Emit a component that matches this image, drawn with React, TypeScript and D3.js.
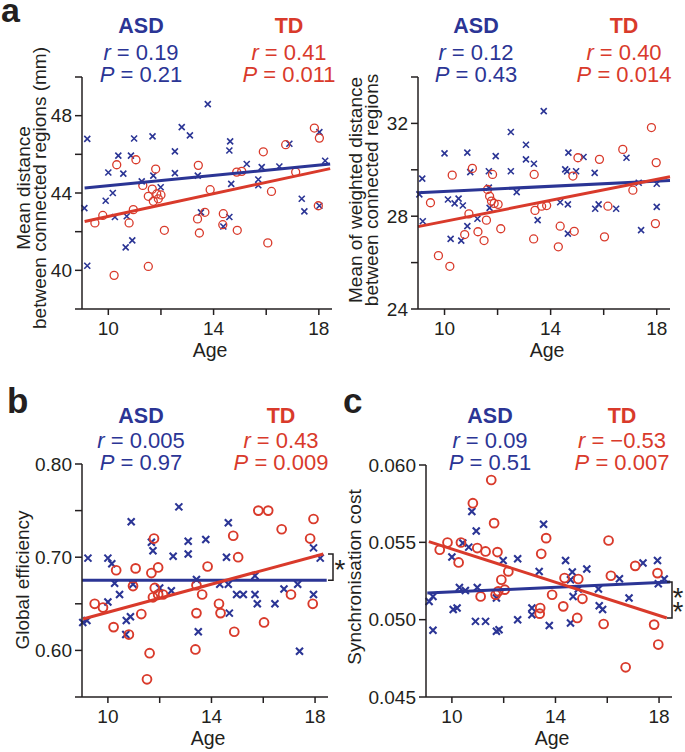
import * as d3 from 'd3';

const FONT = '"Liberation Sans", Arial, Helvetica, sans-serif';
const BLUE = '#2b3595';
const RED = '#d93a2b';
const INK = '#231f20';

const ageTicks = [10, 12, 14, 16, 18];
const ageLabels = [10, 14, 18];

// a (left): mean distance between connected regions (mm)
const distAsd = [
  [9.2, 46.8], [10.38, 45.93], [10.0, 45.06], [10.57, 45.0], [10.98, 46.82], [10.86, 45.93], [11.27, 44.6],
  [11.68, 46.93], [11.71, 44.9], [12.53, 46.15], [12.53, 45.03], [12.79, 47.41], [13.1, 46.98], [13.4, 44.9],
  [13.78, 48.6], [14.63, 46.67], [14.6, 46.2], [14.67, 44.47], [15.26, 45.5], [15.83, 45.34], [15.7, 44.7],
  [15.7, 44.4], [16.5, 45.37], [16.88, 46.55], [18.02, 47.15], [18.24, 45.67], [17.35, 43.7], [10.17, 44.0],
  [9.9, 43.6], [9.09, 43.22], [11.99, 44.3], [10.25, 42.76], [10.7, 42.8], [10.66, 41.19], [10.91, 41.55],
  [9.2, 40.24], [13.52, 43.0], [14.37, 42.27], [14.6, 42.76], [17.45, 43.05], [18.02, 43.34],
];
const distTd = [
  [10.32, 45.46], [11.05, 45.72], [11.31, 44.39], [11.8, 45.24], [13.42, 45.43], [13.87, 44.17], [14.88, 45.08],
  [15.07, 45.12], [15.89, 46.13], [16.2, 44.08], [16.74, 46.5], [17.12, 45.08], [17.83, 47.36], [18.02, 46.84],
  [11.67, 44.2], [11.52, 43.83], [11.71, 43.57], [11.84, 43.95], [12.0, 43.9], [11.9, 43.7], [9.49, 42.45],
  [9.79, 42.84], [10.95, 43.14], [10.79, 42.45], [13.39, 42.66], [13.67, 43.0], [13.46, 41.93], [14.37, 42.93],
  [14.35, 42.36], [14.9, 42.07], [12.13, 42.07], [16.06, 41.42], [17.98, 43.34], [11.52, 40.2], [10.22, 39.74],
];
const distFitAsd = [[9.1, 44.26], [18.43, 45.5]];
const distFitTd = [[9.1, 42.53], [18.43, 45.26]];

// a (right): mean of weighted distance
const wdistAsd = [
  [9.16, 29.62], [10.0, 30.71], [10.86, 30.74], [10.97, 29.9], [11.67, 29.94], [11.93, 30.59], [12.5, 31.63],
  [12.5, 29.94], [12.72, 29.04], [13.07, 31.08], [13.07, 30.45], [13.37, 30.26], [13.74, 32.53], [14.55, 30.02],
  [14.62, 29.93], [14.67, 30.74], [14.96, 29.94], [15.24, 30.55], [15.66, 29.87], [16.86, 30.52], [17.32, 29.44],
  [18.0, 29.4], [11.67, 29.23], [9.05, 28.94], [9.18, 27.78], [10.13, 28.72], [10.38, 28.55], [10.53, 28.76],
  [10.69, 28.46], [10.86, 27.57], [10.23, 27.02], [10.63, 26.95], [11.24, 27.89], [11.7, 28.36], [13.51, 27.83],
  [14.36, 28.6], [14.65, 28.51], [14.65, 27.25], [15.68, 28.32], [15.81, 28.51], [16.47, 28.32], [17.41, 27.4],
  [18.0, 28.4],
];
const wdistTd = [
  [10.29, 29.77], [11.05, 30.06], [11.81, 29.8], [13.38, 29.8], [15.03, 30.52], [14.84, 29.73], [15.84, 30.45],
  [16.72, 30.88], [17.8, 31.82], [17.98, 30.31], [17.1, 29.12], [11.62, 29.15], [9.47, 28.58], [9.77, 26.3],
  [10.2, 25.84], [10.92, 28.1], [10.76, 27.21], [11.26, 27.33], [11.49, 26.95], [11.58, 27.83], [11.7, 28.86],
  [11.77, 28.65], [11.87, 28.55], [12.02, 28.51], [12.12, 27.46], [13.36, 27.02], [13.41, 28.25], [13.66, 28.43],
  [13.85, 28.46], [14.36, 27.57], [14.29, 26.68], [14.89, 27.35], [16.03, 27.11], [16.16, 28.43], [17.95, 27.68],
];
const wdistFitAsd = [[9.0, 29.01], [18.5, 29.54]];
const wdistFitTd = [[9.0, 27.55], [18.5, 29.7]];

// b: global efficiency
const effAsd = [
  [12.74, 0.754], [10.9, 0.738], [14.65, 0.737], [11.68, 0.716], [11.74, 0.707], [13.1, 0.717], [13.78, 0.719],
  [13.1, 0.7035], [12.52, 0.701], [17.94, 0.71], [9.23, 0.699], [10.0, 0.699], [10.15, 0.693], [14.58, 0.7],
  [10.26, 0.672], [10.45, 0.66], [10.0, 0.652], [10.71, 0.632], [10.87, 0.636], [10.69, 0.617], [10.97, 0.671],
  [9.19, 0.632], [9.03, 0.63], [12.0, 0.667], [12.45, 0.664], [13.42, 0.676], [13.49, 0.62], [14.32, 0.671],
  [14.65, 0.671], [14.69, 0.64], [14.97, 0.66], [15.23, 0.66], [15.68, 0.68], [15.68, 0.66], [15.77, 0.65],
  [16.45, 0.65], [16.8, 0.666], [17.33, 0.671], [17.4, 0.599], [17.94, 0.66], [18.2, 0.699],
];
const effTd = [
  [11.78, 0.72], [14.84, 0.723], [15.81, 0.75], [16.19, 0.75], [16.71, 0.73], [17.94, 0.741], [17.81, 0.72],
  [15.03, 0.7], [10.32, 0.686], [11.07, 0.688], [11.68, 0.683], [11.94, 0.689], [10.97, 0.669], [11.81, 0.667],
  [11.74, 0.657], [11.94, 0.66], [12.13, 0.66], [9.49, 0.65], [9.81, 0.646], [10.22, 0.625], [10.81, 0.617],
  [11.29, 0.639], [11.61, 0.597], [11.51, 0.569], [13.42, 0.67], [13.64, 0.66], [13.42, 0.64], [13.38, 0.601],
  [13.85, 0.69], [14.29, 0.65], [14.35, 0.64], [14.88, 0.62], [16.03, 0.63], [17.07, 0.66], [17.91, 0.65],
];
const effFitAsd = [[9.0, 0.6752], [18.45, 0.6752]];
const effFitTd = [[9.04, 0.6337], [18.32, 0.7035]];

// c: synchronisation cost
const syncAsd = [
  [10.77, 0.057], [10.94, 0.05574], [13.54, 0.05617], [10.42, 0.05495], [10.65, 0.05469], [10.0, 0.05405],
  [11.98, 0.05383], [12.54, 0.05394], [13.37, 0.05312], [14.39, 0.05383], [14.65, 0.05308], [14.58, 0.05258],
  [15.21, 0.05327], [14.68, 0.0515], [14.88, 0.05198], [15.66, 0.05198], [15.69, 0.0509], [15.82, 0.05065],
  [16.47, 0.05265], [16.84, 0.0514], [17.38, 0.05366], [17.94, 0.05383], [17.97, 0.05232], [18.2, 0.05263],
  [9.12, 0.05118], [9.27, 0.0515], [9.27, 0.04931], [10.05, 0.05065], [10.2, 0.05075], [10.29, 0.05208],
  [10.52, 0.05189], [10.98, 0.05208], [10.91, 0.04989], [11.3, 0.04989], [11.72, 0.04925], [11.82, 0.04935],
  [11.72, 0.0514], [12.54, 0.05], [13.09, 0.05075], [13.09, 0.05032], [13.76, 0.04963], [14.58, 0.04978],
];
const syncTd = [
  [11.52, 0.05903], [10.81, 0.05753], [11.63, 0.05624], [13.64, 0.05527], [16.05, 0.05512], [9.83, 0.05499],
  [10.35, 0.05499], [9.53, 0.05452], [10.26, 0.0537], [10.98, 0.05463], [11.3, 0.05441], [11.76, 0.05437],
  [13.45, 0.05426], [11.91, 0.05258], [12.18, 0.05312], [11.79, 0.05183], [12.04, 0.05194], [11.69, 0.05161],
  [11.11, 0.0515], [13.41, 0.05075], [13.39, 0.05039], [13.87, 0.05161], [14.3, 0.05086], [14.35, 0.05269],
  [14.88, 0.05263], [15.04, 0.05135], [14.84, 0.05011], [15.86, 0.04972], [16.14, 0.05284], [17.08, 0.05348],
  [17.94, 0.05301], [17.81, 0.04968], [17.97, 0.04839], [16.71, 0.04692],
];
const syncFitAsd = [[9.05, 0.05172], [18.43, 0.05243]];
const syncFitTd = [[9.11, 0.05505], [18.3, 0.05011]];

function Stat({ x, y, sym, val, color }) {
  return (
    <text x={x} y={y} textAnchor="middle" fill={color} fontSize={22}>
      <tspan fontStyle="italic">{sym}</tspan> = {val}
    </text>
  );
}

function Panel(p) {
  const x = d3.scaleLinear().domain([9, 18.5]).range(p.xr);
  const y = d3.scaleLinear().domain(p.yDomain).range(p.yr);
  const line = d3.line().x(d => x(d[0])).y(d => y(d[1]));
  const [x0, x1] = p.xr;
  const [yb, yt] = p.yr;
  const s = p.xs;
  const hy = p.headY;

  return (
    <g>
      {p.asd.map((d, i) => {
        const cx = x(d[0]), cy = y(d[1]);
        return (
          <path key={'a' + i}
            d={`M${cx - s},${cy - s}L${cx + s},${cy + s}M${cx - s},${cy + s}L${cx + s},${cy - s}`}
            stroke={BLUE} strokeWidth={p.xw} fill="none" />
        );
      })}
      {p.td.map((d, i) => (
        <circle key={'t' + i} cx={x(d[0])} cy={y(d[1])} r={p.cr}
          fill="none" stroke={RED} strokeWidth={p.cw} />
      ))}
      <path d={line(p.fitAsd)} stroke={BLUE} strokeWidth={3} fill="none" />
      <path d={line(p.fitTd)} stroke={RED} strokeWidth={3} fill="none" />

      {/* axes */}
      <line x1={x0} x2={x0} y1={yt} y2={yb} stroke={INK} strokeWidth={1.5} />
      <line x1={x0} x2={x1} y1={yb} y2={yb} stroke={INK} strokeWidth={1.5} />
      {p.yTicks.map(t => (
        <g key={'y' + t}>
          <line x1={x0 - 7} x2={x0} y1={y(t)} y2={y(t)} stroke={INK} strokeWidth={1.5} />
          {p.yLabels.includes(t) && (
            <text x={x0 - 10} y={y(t) + 6.5} textAnchor="end" fontSize={19} fill={INK}>
              {p.yFmt(t)}
            </text>
          )}
        </g>
      ))}
      {ageTicks.map(t => (
        <g key={'x' + t}>
          <line x1={x(t)} x2={x(t)} y1={yb} y2={yb + 6} stroke={INK} strokeWidth={1.5} />
          {ageLabels.includes(t) && (
            <text x={x(t)} y={yb + 26} textAnchor="middle" fontSize={19} fill={INK}>{t}</text>
          )}
        </g>
      ))}
      <text x={(x0 + x1) / 2 + 3} y={yb + 48} textAnchor="middle" fontSize={19.5} fill={INK}>Age</text>
      {p.yTitle.map((t, i) => (
        <text key={t} transform={`translate(${p.yTitleX[i]},${p.yTitleC}) rotate(-90)`}
          textAnchor="middle" fontSize={19} fill={INK}>{t}</text>
      ))}

      {/* header */}
      <text x={p.asdX} y={hy[0]} textAnchor="middle" fontWeight="bold" fontSize={21.5} fill={BLUE}>ASD</text>
      <Stat x={p.asdX} y={hy[1]} sym="r" val={p.asdR} color={BLUE} />
      <Stat x={p.asdX} y={hy[2]} sym="P" val={p.asdP} color={BLUE} />
      <text x={p.tdX} y={hy[0]} textAnchor="middle" fontWeight="bold" fontSize={21.5} fill={RED}>TD</text>
      <Stat x={p.tdX} y={hy[1]} sym="r" val={p.tdR} color={RED} />
      <Stat x={p.tdX} y={hy[2]} sym="P" val={p.tdP} color={RED} />

      {p.bracket && (() => {
        const bx = p.bracket.x;
        const ya = y(p.fitAsd[1][1]);
        const yr = y(p.fitTd[1][1]);
        return (
          <g>
            <path d={`M${bx - 5},${ya}H${bx}V${yr}H${bx - 5}`} stroke={INK} strokeWidth={1.5} fill="none" />
            {p.bracket.stars.map((sy, i) => (
              <text key={i} x={bx + p.bracket.dx} y={sy + 16} textAnchor="middle"
                fontSize={28} fill={INK}>*</text>
            ))}
          </g>
        );
      })()}
    </g>
  );
}

export default function App() {
  return (
    <svg width={685} height={752} viewBox="0 0 685 752"
      style={{ position: 'absolute', left: 0, top: 0, background: '#fff', fontFamily: FONT }}>
      <text x={1} y={22} fontSize={34} fontWeight="bold" fill={INK}>a</text>
      <text x={7} y={413} fontSize={35} fontWeight="bold" fill={INK}>b</text>
      <text x={343} y={413} fontSize={35} fontWeight="bold" fill={INK}>c</text>

      <Panel asd={distAsd} td={distTd} fitAsd={distFitAsd} fitTd={distFitTd}
        xr={[82, 332]} yr={[309, 77]} yDomain={[38, 50]}
        yTicks={[38, 40, 42, 44, 46, 48, 50]} yLabels={[40, 44, 48]} yFmt={d => String(d)}
        yTitle={['Mean distance', 'between connected regions (mm)']} yTitleX={[30, 46]} yTitleC={188}
        headY={[33, 60, 82]} asdX={141} tdX={289}
        asdR="0.19" asdP="0.21" tdR="0.41" tdP="0.011"
        xs={3} xw={1.6} cr={4} cw={1.3} />

      <Panel asd={wdistAsd} td={wdistTd} fitAsd={wdistFitAsd} fitTd={wdistFitTd}
        xr={[418, 670]} yr={[309, 77]} yDomain={[24, 34]}
        yTicks={[24, 26, 28, 30, 32, 34]} yLabels={[24, 28, 32]} yFmt={d => String(d)}
        yTitle={['Mean of weighted distance', 'between connected regions']} yTitleX={[362, 378]} yTitleC={190}
        headY={[33, 60, 82]} asdX={476} tdX={624}
        asdR="0.12" asdP="0.43" tdR="0.40" tdP="0.014"
        xs={3} xw={1.6} cr={4} cw={1.3} />

      <Panel asd={effAsd} td={effTd} fitAsd={effFitAsd} fitTd={effFitTd}
        xr={[82, 328]} yr={[697, 464]} yDomain={[0.55, 0.8]}
        yTicks={[0.55, 0.6, 0.65, 0.7, 0.75, 0.8]} yLabels={[0.6, 0.7, 0.8]} yFmt={d3.format('.2f')}
        yTitle={['Global efficiency']} yTitleX={[29]} yTitleC={580}
        headY={[423, 448, 470]} asdX={141} tdX={281}
        asdR="0.005" asdP="0.97" tdR="0.43" tdP="0.009"
        xs={3.5} xw={2.1} cr={4.4} cw={1.9}
        bracket={{ x: 333, dx: 7, stars: [563] }} />

      <Panel asd={syncAsd} td={syncTd} fitAsd={syncFitAsd} fitTd={syncFitTd}
        xr={[426, 672]} yr={[697, 465]} yDomain={[0.045, 0.06]}
        yTicks={[0.045, 0.05, 0.055, 0.06]} yLabels={[0.045, 0.05, 0.055, 0.06]} yFmt={d3.format('.3f')}
        yTitle={['Synchronisation cost']} yTitleX={[361]} yTitleC={577}
        headY={[423, 448, 470]} asdX={490} tdX={622}
        asdR="0.09" asdP="0.51" tdR="−0.53" tdP="0.007"
        xs={3.5} xw={2.1} cr={4.4} cw={1.9}
        bracket={{ x: 672, dx: 6, stars: [591, 605] }} />
    </svg>
  );
}
